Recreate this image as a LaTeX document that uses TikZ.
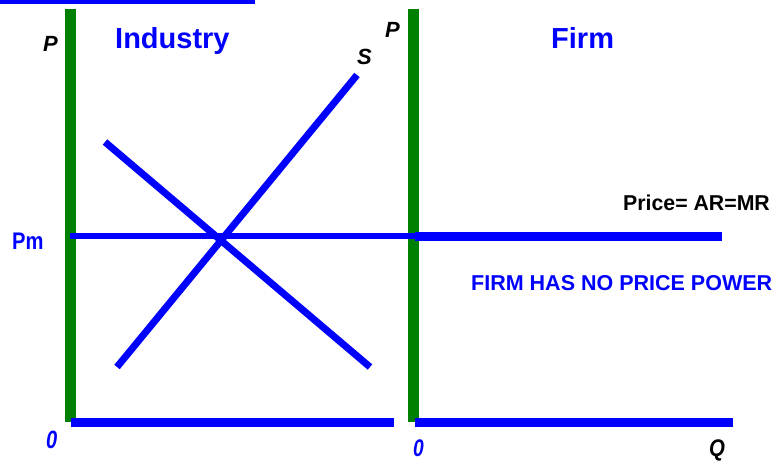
\documentclass[tikz,border=0pt]{standalone}
\usepackage{fontspec}
\setmainfont{Liberation Sans}
\usepackage{xcolor}
\definecolor{axisgreen}{RGB}{0, 128, 0}
\definecolor{curveblue}{RGB}{0, 0, 255}
\usetikzlibrary{positioning, calc}

\begin{document}
\begin{tikzpicture}[
    x=1pt, y=-1pt,
    axis/.style={draw=axisgreen, line width=11pt},
    base/.style={draw=curveblue, line width=9pt},
    curve/.style={draw=curveblue, line width=7pt},
    title/.style={anchor=base west, inner sep=0pt, text=curveblue, font=\fontsize{29}{29}\selectfont\bfseries},
    tag/.style={anchor=base west, inner sep=0pt, font=\fontsize{22}{22}\selectfont\bfseries\itshape},
    note/.style={anchor=base west, inner sep=0pt, font=\fontsize{21.5}{21.5}\selectfont\bfseries}
  ]
    \useasboundingbox (0,0) rectangle (778,461);
    % top rule
    \coordinate (ruleL) at (0,2);
    \coordinate (ruleR) at (255,2);
    \draw[curveblue, line width=4pt] (ruleL) -- (ruleR);
    % industry axes
    \coordinate (indTop) at (70.5,9);
    \coordinate (indOrigin) at (70.5,422);
    \coordinate (indEnd) at (394,422);
    \draw[axis] (indTop) -- (indOrigin);
    \draw[base] (indOrigin) -- (indEnd);
    % firm axes
    \coordinate (firmTop) at (413,9);
    \coordinate (firmOrigin) at (413,422);
    \coordinate (firmStart) at (415,422);
    \coordinate (firmEnd) at (733,422);
    \draw[axis] (firmTop) -- (firmOrigin);
    \draw[base] (firmStart) -- (firmEnd);
    % demand and supply
    \coordinate (demA) at (105,142);
    \coordinate (demB) at (370,367);
    \coordinate (supA) at (117,367);
    \coordinate (supB) at (357,75);
    \draw[curve] (demA) -- (demB);
    \draw[curve] (supA) -- (supB);
    % market price
    \coordinate (pmL) at (70,236);
    \coordinate (pmR) at (415,236);
    \coordinate (arR) at (722,236);
    \draw[curveblue, line width=5.5pt] (pmL) -- (pmR);
    \draw[base] (pmR) -- (arR);
    % labels
    \node[tag] (pInd) at (43,51) {P};
    \node[tag] (pFirm) at (385,37) {P};
    \node[tag] (sLbl) at (357,64) {S};
    \node[title] (indLbl) at (115,48) {Industry};
    \node[title] (firmLbl) at (551,48) {Firm};
    \node[note, text=curveblue, font=\fontsize{24}{24}\selectfont\bfseries, xscale=0.84] (pmLbl) at (12,249) {Pm};
    \node[note, xscale=0.99] (arLbl) at (623,210) {Price= AR=MR};
    \node[note, text=curveblue] (powerLbl) at (471,290) {FIRM HAS NO PRICE POWER};
    \node[tag, text=curveblue, font=\fontsize{25}{25}\selectfont\bfseries\itshape, xscale=0.8] (zeroInd) at (46,448) {0};
    \node[tag, text=curveblue, font=\fontsize{24}{24}\selectfont\bfseries\itshape, xscale=0.8] (zeroFirm) at (413,456) {0};
    \node[tag, font=\fontsize{24}{24}\selectfont\bfseries\itshape, xscale=0.85] (qLbl) at (709,456) {Q};
  \end{tikzpicture}
\end{document}
